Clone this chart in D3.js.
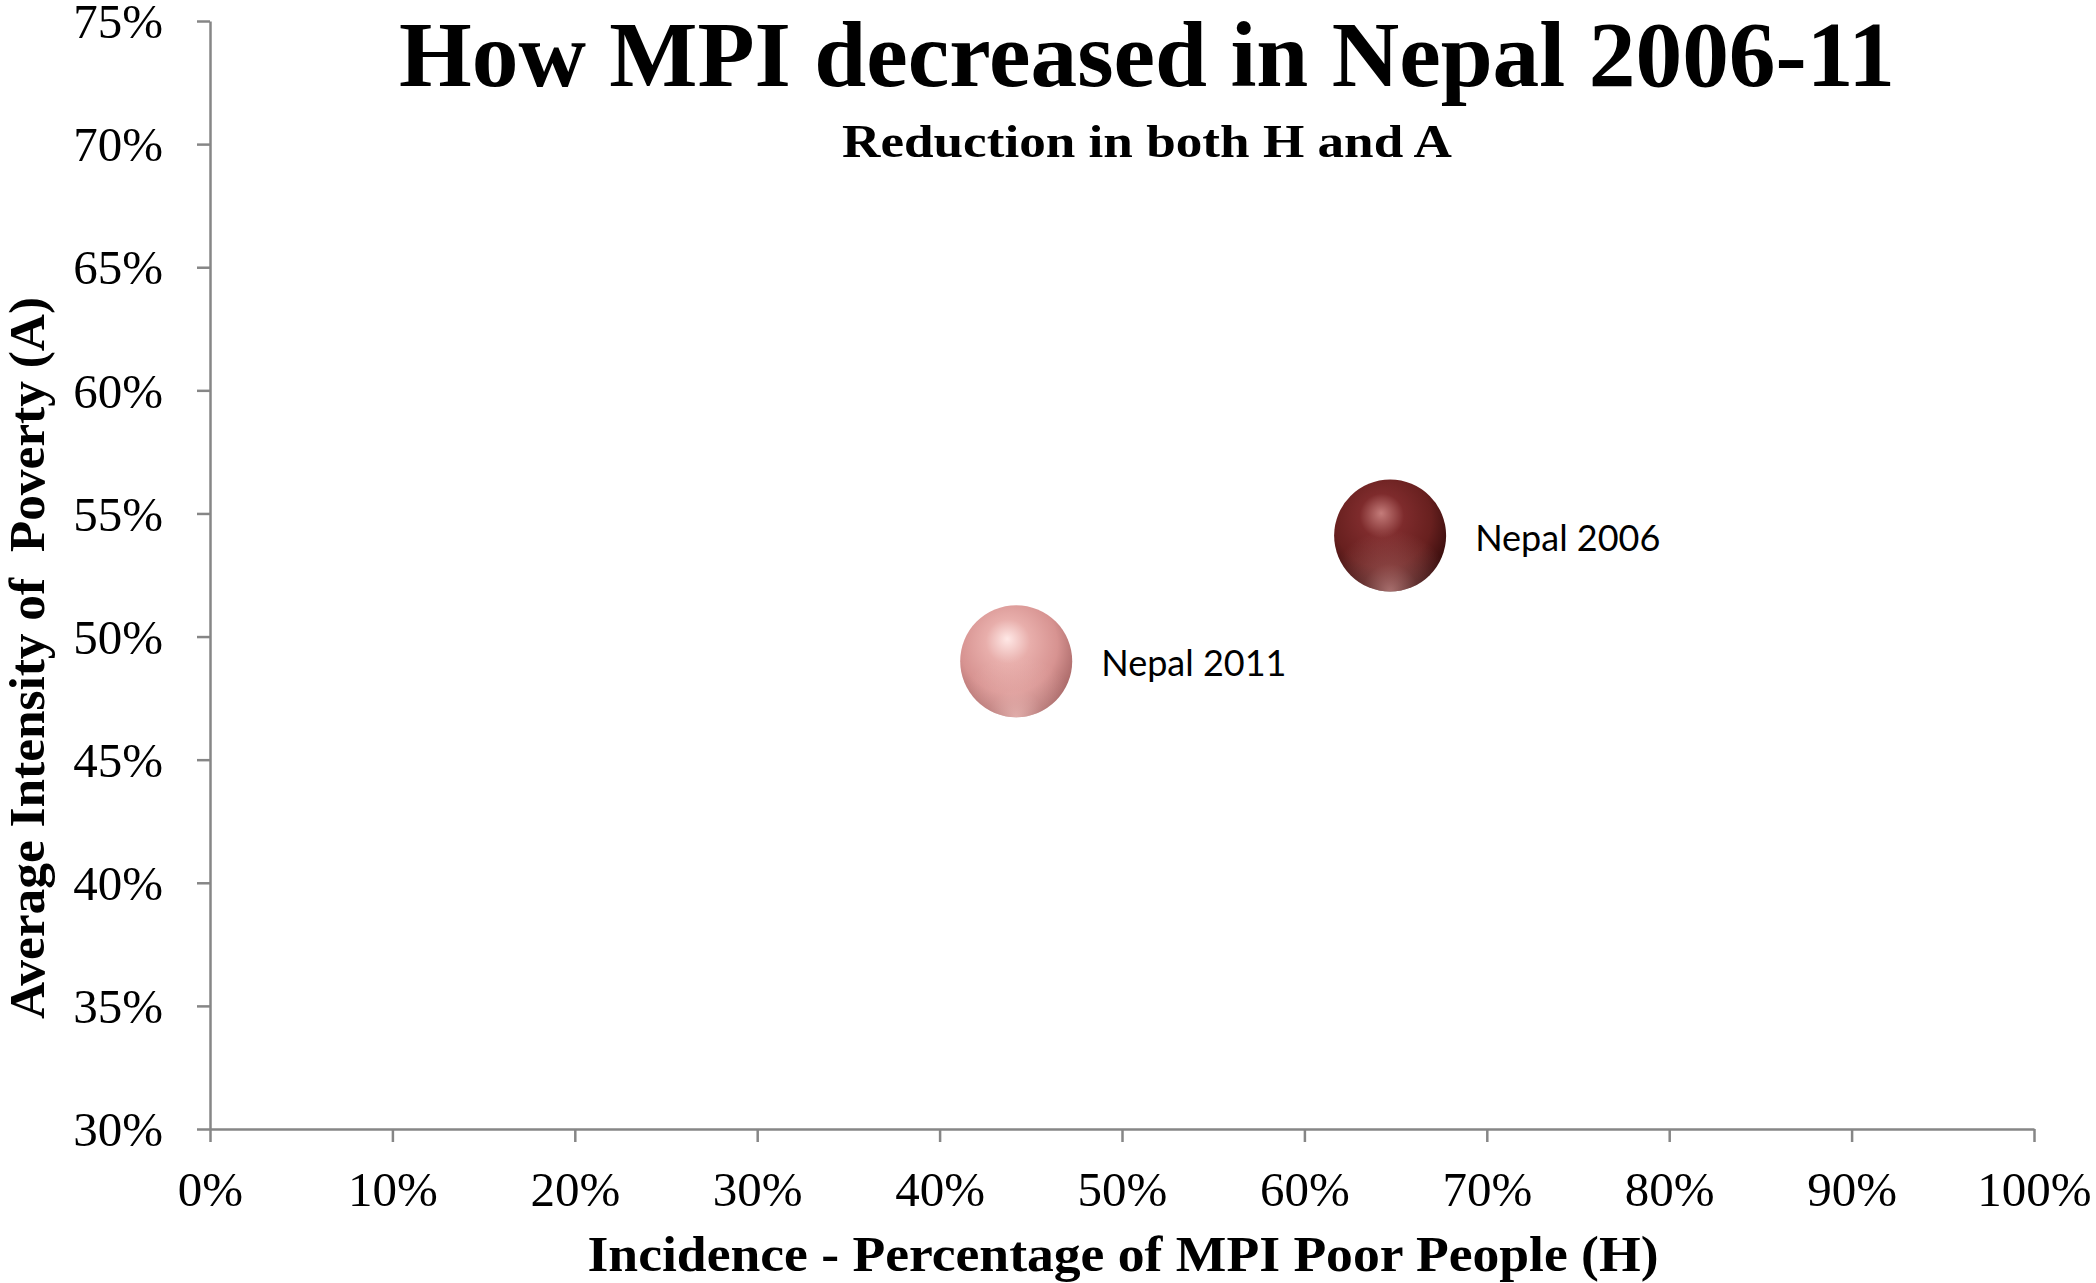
<!DOCTYPE html>
<html>
<head>
<meta charset="utf-8">
<script src="https://cdn.jsdelivr.net/npm/d3@7"></script>
<style>
  html, body { margin: 0; padding: 0; background: #fff; }
  svg { display: block; }
  .axis path, .axis line { stroke: #868686; stroke-width: 2.5; }
  .axis text { font-family: "Liberation Serif", "Times New Roman", serif; font-size: 49px; fill: #000; }
</style>
</head>
<body>
<svg id="chart" width="2096" height="1283"></svg>
<script>
// MPI components for Nepal: incidence (H) and intensity (A)
const labels = ["Nepal 2006", "Nepal 2011"];
const incidence = [0.647, 0.442];
const intensity = [0.541, 0.490];
const bubbleStyle = ["dark", "light"];

const xTicks = [0, 0.1, 0.2, 0.3, 0.4, 0.5, 0.6, 0.7, 0.8, 0.9, 1.0];
const yTicks = [0.30, 0.35, 0.40, 0.45, 0.50, 0.55, 0.60, 0.65, 0.70, 0.75];

const W = 2096, H = 1283;
const margin = { left: 210, right: 62, top: 21, bottom: 154 };
const svg = d3.select("#chart");

const x = d3.scaleLinear().domain([0, 1]).range([margin.left, W - margin.right]);
const y = d3.scaleLinear().domain([0.30, 0.75]).range([H - margin.bottom, margin.top]);
const pct = d3.format(".0%");

// Sphere shading
const defs = svg.append("defs");
const palettes = {
  dark:  { hi: "#c47c7a", mid: "#7e2b2c", base: "#68201f", edge: "#300a0a", rim: "#d89a98" },
  light: { hi: "#ffe8e6", mid: "#e8aeab", base: "#d79391", edge: "#a06060", rim: "#f8caC6" }
};
Object.entries(palettes).forEach(([k, p]) => {
  const g = defs.append("radialGradient").attr("id", "sphere-" + k)
    .attr("cx", "44%").attr("cy", "38%").attr("r", "66%")
    .attr("fx", "42%").attr("fy", "30%");
  g.append("stop").attr("offset", "0%").attr("stop-color", p.hi);
  g.append("stop").attr("offset", "30%").attr("stop-color", p.mid);
  g.append("stop").attr("offset", "66%").attr("stop-color", p.base);
  g.append("stop").attr("offset", "100%").attr("stop-color", p.edge);
  const r = defs.append("radialGradient").attr("id", "rim-" + k)
    .attr("cx", "50%").attr("cy", "100%").attr("r", "55%");
  r.append("stop").attr("offset", "0%").attr("stop-color", p.rim).attr("stop-opacity", 0.7);
  r.append("stop").attr("offset", "45%").attr("stop-color", p.rim).attr("stop-opacity", 0.25);
  r.append("stop").attr("offset", "100%").attr("stop-color", p.rim).attr("stop-opacity", 0);
});

// Axes
const yAxis = svg.append("g").attr("class", "axis")
  .attr("transform", `translate(${margin.left},0)`)
  .call(d3.axisLeft(y).tickValues(yTicks).tickFormat(pct).tickSize(13).tickPadding(34).tickSizeOuter(0));
yAxis.selectAll("text").attr("dy", "0.34em");

const xAxis = svg.append("g").attr("class", "axis")
  .attr("transform", `translate(0,${y(0.30)})`)
  .call(d3.axisBottom(x).tickValues(xTicks).tickFormat(pct).tickSize(13).tickSizeOuter(0));
xAxis.selectAll("text").attr("y", 77).attr("dy", 0);

// Bubbles
const R = 56;
const pts = labels.map((l, i) => ({ label: l, h: incidence[i], a: intensity[i], s: bubbleStyle[i] }));
const g = svg.append("g");
g.selectAll("circle.ball").data(pts).join("circle").attr("class", "ball")
  .attr("cx", d => x(d.h)).attr("cy", d => y(d.a)).attr("r", R)
  .attr("fill", d => `url(#sphere-${d.s})`);
g.selectAll("circle.rim").data(pts).join("circle").attr("class", "rim")
  .attr("cx", d => x(d.h)).attr("cy", d => y(d.a)).attr("r", R)
  .attr("fill", d => `url(#rim-${d.s})`);
g.selectAll("text").data(pts).join("text")
  .attr("x", d => x(d.h) + 85).attr("y", d => y(d.a) + 15)
  .attr("font-family", "Lato, 'Open Sans', sans-serif").attr("font-size", 36)
  .text(d => d.label);

// Titles
const serif = "'Liberation Serif', 'Times New Roman', serif";
svg.append("text").attr("x", 1147).attr("y", 86).attr("text-anchor", "middle")
  .attr("font-family", serif).attr("font-weight", "bold").attr("font-size", 93)
  .attr("textLength", 1496).attr("lengthAdjust", "spacingAndGlyphs")
  .text("How MPI decreased in Nepal 2006-11");
svg.append("text").attr("x", 1147).attr("y", 157).attr("text-anchor", "middle")
  .attr("font-family", serif).attr("font-weight", "bold").attr("font-size", 46)
  .attr("textLength", 610).attr("lengthAdjust", "spacingAndGlyphs")
  .text("Reduction in both H and A");
svg.append("text").attr("x", 1123).attr("y", 1271).attr("text-anchor", "middle")
  .attr("font-family", serif).attr("font-weight", "bold").attr("font-size", 50)
  .attr("textLength", 1071).attr("lengthAdjust", "spacingAndGlyphs")
  .text("Incidence - Percentage of MPI Poor People (H)");
svg.append("text").attr("transform", "translate(44,658) rotate(-90)").attr("text-anchor", "middle")
  .attr("font-family", serif).attr("font-weight", "bold").attr("font-size", 50)
  .attr("textLength", 722).attr("lengthAdjust", "spacingAndGlyphs")
  .attr("xml:space", "preserve")
  .text("Average Intensity of  Poverty (A)");
</script>
</body>
</html>
